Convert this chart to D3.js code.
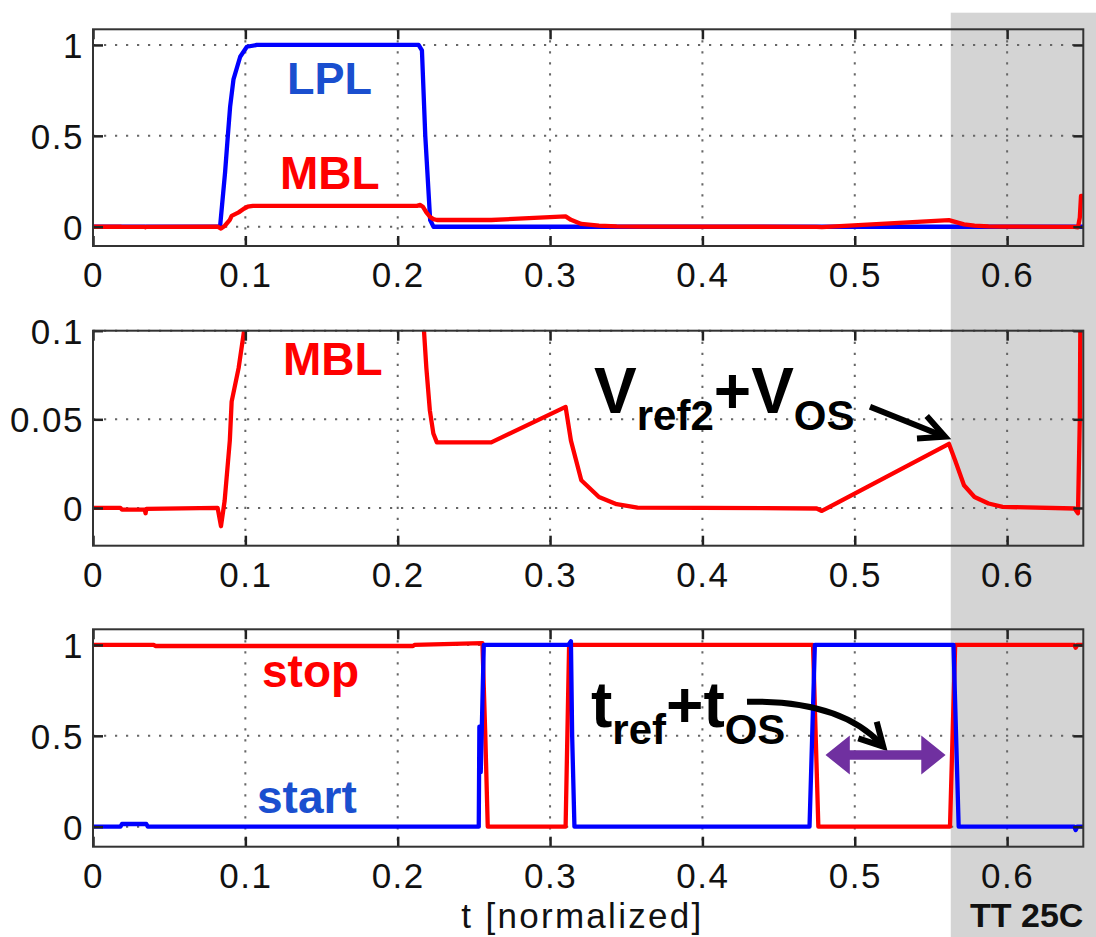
<!DOCTYPE html>
<html><head><meta charset="utf-8">
<script src="https://cdn.jsdelivr.net/npm/d3@7"></script>
<style>body{margin:0;background:#fff}svg{display:block}</style>
</head><body>
<svg id="c" width="1096" height="937"></svg>
<script>
// ---------- data ----------
const xTicks = [0, 0.1, 0.2, 0.3, 0.4, 0.5, 0.6];
const xTickLabels = ["0", "0.1", "0.2", "0.3", "0.4", "0.5", "0.6"];
const yTicksTop = [0, 0.5, 1];
const yTickLabelsTop = ["0", "0.5", "1"];
const yTicksMid = [0, 0.05, 0.1];
const yTickLabelsMid = ["0", "0.05", "0.1"];
const yTicksBot = [0, 0.5, 1];
const yTickLabelsBot = ["0", "0.5", "1"];
const shadeStartT = 0.563;   // "TT 25C" shaded region start

// LPL (blue, panel 1)
const lpl = [[0,0],[0.0834,0],[0.0867,0.3],[0.0885,0.5],[0.090,0.66],[0.0922,0.81],[0.0966,0.935],[0.101,0.99],[0.1075,1.0],
  [0.2137,1.0],[0.2159,0.97],[0.2181,0.5],[0.2213,0.037],[0.2235,0],[0.65,0]];
// MBL (red, panels 1 and 2)
const mbl = [[0,0],[0.018,0],[0.019,-0.001],[0.034,-0.001],[0.0345,-0.003],[0.035,-0.0005],[0.0818,0],[0.084,-0.0103],
  [0.0864,0.004],[0.0898,0.038],[0.091,0.06],[0.0956,0.079],[0.099,0.099],[0.1015,0.11],[0.105,0.115],
  [0.2126,0.115],[0.2148,0.12],[0.2165,0.11],[0.2188,0.079],[0.2211,0.055],[0.2234,0.042],[0.2257,0.037],
  [0.2614,0.037],[0.3102,0.057],[0.3137,0.038],[0.3205,0.0156],[0.3321,0.0062],[0.3437,0.0021],[0.3574,0.0002],
  [0.475,-0.0003],[0.4784,-0.0017],[0.5618,0.0362],[0.5659,0.0268],[0.5717,0.0128],[0.5786,0.0062],[0.5878,0.0025],
  [0.597,0.0006],[0.6443,-0.0003],[0.6465,-0.003],[0.6477,0.05],[0.6485,0.17],[0.65,0.17]];
// stop (red, panel 3)
const stopSig = [[0,1],[0.04,1],[0.041,0.994],[0.21,0.994],[0.211,1],[0.2556,1.01],[0.2575,0.5],[0.2591,0],
  [0.3102,0],[0.3125,1],[0.4726,1],[0.4761,0],[0.5625,0],[0.5659,1],[0.644,1],[0.645,0.985],[0.646,1],[0.65,1]];
// start (blue, panel 3)
const startSig = [[0,0],[0.018,0],[0.019,0.015],[0.035,0.015],[0.036,0],[0.2532,0],[0.2536,0.55],[0.2545,0.3],
  [0.2565,1],[0.312,1],[0.3137,1.02],[0.3145,0.5],[0.316,0],[0.4703,0],[0.4738,1],[0.5648,1],[0.5682,0],[0.644,0],
  [0.645,-0.018],[0.646,0],[0.65,0]];

// ---------- layout ----------
const svg = d3.select("#c");
const left = 93, right = 1083.3;
const x = d3.scaleLinear().domain([0, 0.65]).range([left, right]);
const REG = "'Liberation Sans', Arial, Helvetica, sans-serif";
const BLUE = "#0000ff", RED = "#ff0000", LBLUE = "#1a4fcf";

const panels = [
  {top: 29.3, bottom: 246, dom: [-0.106, 1.086], ticks: yTicksTop, labels: yTickLabelsTop,
   series: [{d: lpl, c: BLUE}, {d: mbl, c: RED}]},
  {top: 330.7, bottom: 545.7, dom: [-0.0213, 0.1], ticks: yTicksMid, labels: yTickLabelsMid,
   series: [{d: mbl, c: RED}]},
  {top: 629.3, bottom: 846.7, dom: [-0.11, 1.086], ticks: yTicksBot, labels: yTickLabelsBot,
   series: [{d: stopSig, c: RED}, {d: startSig, c: BLUE}]}
];

// shaded region
svg.append("rect").attr("x", x(shadeStartT)).attr("y", 12.7)
  .attr("width", 1096 - x(shadeStartT)).attr("height", 937 - 12.7).attr("fill", "#d4d4d4");

const defs = svg.append("defs");

panels.forEach((p, i) => {
  const y = d3.scaleLinear().domain(p.dom).range([p.bottom, p.top]);
  const g = svg.append("g");
  defs.append("clipPath").attr("id", "clip" + i).append("rect")
    .attr("x", left).attr("y", p.top).attr("width", right - left).attr("height", p.bottom - p.top);

  // grid
  const grid = g.append("g").attr("stroke", "#666").attr("stroke-width", 2).attr("stroke-dasharray", "2.2,8.8");
  grid.selectAll(".gx").data(xTicks.slice(1)).join("line")
    .attr("x1", d => x(d)).attr("x2", d => x(d)).attr("y1", p.top).attr("y2", p.bottom);
  grid.selectAll(".gy").data(p.ticks).join("line")
    .attr("x1", left).attr("x2", right).attr("y1", d => y(d)).attr("y2", d => y(d));

  // series
  const line = d3.line().x(d => x(d[0])).y(d => y(d[1]));
  p.series.forEach(s => {
    g.append("path").attr("d", line(s.d)).attr("fill", "none").attr("stroke", s.c)
      .attr("stroke-width", 4.3).attr("stroke-linejoin", "round").attr("clip-path", `url(#clip${i})`);
  });

  // axes
  const styleAxis = a => {
    a.select(".domain").remove();
    a.selectAll(".tick line").attr("stroke", "#222").attr("stroke-width", 2.5);
    a.selectAll(".tick text").attr("fill", "#111").style("font-family", REG).style("font-size", "35px")
      .style("letter-spacing", "1.5px");
  };
  g.append("g").attr("transform", `translate(0,${p.bottom})`)
    .call(d3.axisBottom(x).tickValues(xTicks).tickSize(-10).tickPadding(16).tickFormat((d, k) => xTickLabels[k]))
    .call(styleAxis);
  g.append("g").attr("transform", `translate(0,${p.top})`)
    .call(d3.axisTop(x).tickValues(xTicks).tickSize(-10).tickFormat(""))
    .call(styleAxis);
  g.append("g").attr("class", "yleft").attr("transform", `translate(${left},0)`)
    .call(d3.axisLeft(y).tickValues(p.ticks).tickSize(-10).tickPadding(9).tickFormat((d, k) => p.labels[k]))
    .call(styleAxis);
  g.append("g").attr("transform", `translate(${right},0)`)
    .call(d3.axisRight(y).tickValues(p.ticks).tickSize(-10).tickFormat(""))
    .call(styleAxis);
  g.selectAll(".yleft .tick text").attr("dy", "0.36em");

  // frame
  g.append("rect").attr("x", left).attr("y", p.top).attr("width", right - left).attr("height", p.bottom - p.top)
    .attr("fill", "none").attr("stroke", "#333").attr("stroke-width", 2);
});

// ---------- annotations ----------
const BOLD = "'Liberation Sans', Arial, Helvetica, sans-serif";
function label(txt, xx, yy, size, color) {
  svg.append("text").attr("x", xx).attr("y", yy).text(txt).attr("fill", color)
    .style("font-family", BOLD).style("font-weight", "bold").style("font-size", size + "px");
}
label("LPL", 287, 94.3, 45, LBLUE);
label("MBL", 280, 189, 46, RED);
label("MBL", 283, 375, 46, RED);
label("stop", 262, 687.3, 46, RED);
label("start", 257, 813.3, 46, LBLUE);

function subText(parts, xx, yy) {
  const t = svg.append("text").attr("x", xx).attr("y", yy).attr("fill", "#000")
    .style("font-family", BOLD).style("font-weight", "bold");
  let cur = 0;
  parts.forEach(([s, sub]) => {
    const dy = sub ? 17 - cur : -cur;
    cur = sub ? 17 : 0;
    t.append("tspan").attr("dy", dy).style("font-size", (sub ? 42 : 64) + "px").text(s);
  });
}
subText([["V", 0], ["ref2", 1], ["+", 0], ["V", 0], ["OS", 1]], 594, 413.3);
subText([["t", 0], ["ref", 1], ["+", 0], ["t", 0], ["OS", 1]], 591, 726.7);

// straight arrow to V peak
svg.append("line").attr("x1", 870).attr("y1", 406.7).attr("x2", 943).attr("y2", 436)
  .attr("stroke", "#000").attr("stroke-width", 6);
svg.append("polyline").attr("points", "917,438.5 945,436.7 926.7,416").attr("fill", "none")
  .attr("stroke", "#000").attr("stroke-width", 6).attr("stroke-linejoin", "miter");

// curved arrow
svg.append("path").attr("d", "M747,701.7 Q840,700 881,744").attr("fill", "none")
  .attr("stroke", "#000").attr("stroke-width", 6);
svg.append("polyline").attr("points", "858.3,738.3 883.3,746.7 876.7,721.7").attr("fill", "none")
  .attr("stroke", "#000").attr("stroke-width", 6);

// purple double arrow between the two transitions
const pa = x(0.4808), pb = x(0.5596), py = 755;
svg.append("polygon").attr("fill", "#7030a0").attr("points", [
  [pa, py], [pa + 24.3, py - 19.5], [pa + 24.3, py - 4.7], [pb - 24.3, py - 4.7], [pb - 24.3, py - 19.5],
  [pb, py], [pb - 24.3, py + 19.5], [pb - 24.3, py + 4.7], [pa + 24.3, py + 4.7], [pa + 24.3, py + 19.5]
].map(d => d.join(",")).join(" "));

// axis label + corner label
svg.append("text").attr("x", 582.5).attr("y", 928).attr("text-anchor", "middle").text("t [normalized]")
  .attr("fill", "#111").style("font-family", REG).style("font-size", "35px").style("letter-spacing", "2.3px");
svg.append("text").attr("x", 970).attr("y", 927).text("TT 25C").attr("fill", "#111")
  .style("font-family", BOLD).style("font-weight", "bold").style("font-size", "34px");
</script>
</body></html>
